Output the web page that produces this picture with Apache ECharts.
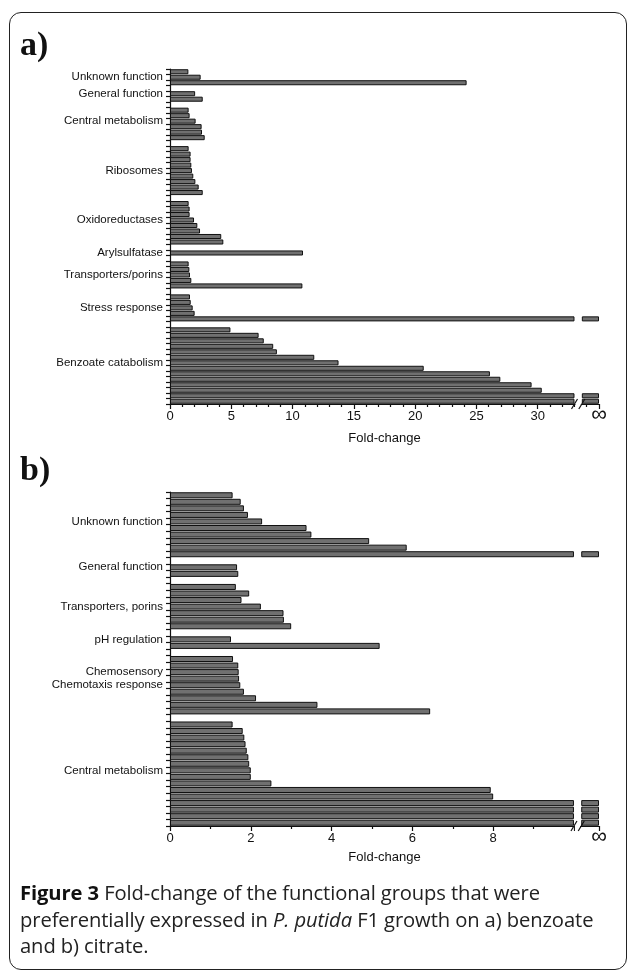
<!DOCTYPE html>
<html><head><meta charset="utf-8">
<script src="https://cdn.jsdelivr.net/npm/echarts@6/dist/echarts.min.js"></script>
<style>
html,body{margin:0;padding:0;background:#fff;width:629px;height:971px;overflow:hidden;}
#frame{position:absolute;left:9px;top:12px;width:618px;height:958px;border:1.5px solid #222;border-radius:12px;box-sizing:border-box;}
#chart{position:absolute;left:0;top:0;width:629px;height:880px;}
#caption{position:absolute;left:20px;top:879px;width:605px;font-family:'Open Sans',sans-serif;font-size:20.2px;line-height:26.5px;color:#222;white-space:nowrap;letter-spacing:-0.1px;}
#caption b{font-weight:700;color:#111;}
</style></head><body>
<div id="frame"></div>
<div id="chart"></div>
<div id="caption"><b>Figure 3</b> Fold-change of the functional groups that were<br>preferentially expressed in <i>P. putida</i> F1 growth on a) benzoate<br>and b) citrate.</div>
<script>
const INF = Infinity;
// ---- Panel a) benzoate ----
const aGroupNames = ['Unknown function', 'General function', 'Central metabolism', 'Ribosomes', 'Oxidoreductases', 'Arylsulfatase', 'Transporters/porins', 'Stress response', 'Benzoate catabolism'];
const aUnknownFunction = [1.5, 2.5, 24.2];
const aGeneralFunction = [2.05, 2.67];
const aCentralMetabolism = [1.52, 1.6, 2.09, 2.58, 2.61, 2.83];
const aRibosomes = [1.52, 1.68, 1.68, 1.74, 1.79, 1.9, 2.07, 2.34, 2.67];
const aOxidoreductases = [1.52, 1.6, 1.6, 1.96, 2.23, 2.45, 4.18, 4.35];
const aArylsulfatase = [10.85];
const aTransportersPorins = [1.52, 1.58, 1.63, 1.74, 10.8];
const aStressResponse = [1.63, 1.69, 1.85, 2.01, INF];
const aBenzoateCatabolism = [4.93, 7.23, 7.65, 8.42, 8.72, 11.77, 13.75, 20.7, 26.1, 26.95, 29.5, 30.33, INF, INF];
const aTickLabels = {0: '0', 5: '5', 10: '10', 15: '15', 20: '20', 25: '25', 30: '30', 35: '∞'};
// ---- Panel b) citrate ----
const bGroupNames = ['Unknown function', 'General function', 'Transporters, porins', 'pH regulation', 'Chemosensory\nChemotaxis response', 'Central metabolism'];
const bUnknownFunction = [1.55, 1.75, 1.83, 1.93, 2.28, 3.38, 3.5, 4.93, 5.86, INF];
const bGeneralFunction = [1.66, 1.69];
const bTransportersPorins = [1.63, 1.96, 1.77, 2.25, 2.81, 2.82, 3.0];
const bPhRegulation = [1.51, 5.19];
const bChemotaxis = [1.56, 1.69, 1.7, 1.71, 1.74, 1.83, 2.13, 3.65, 6.44];
const bCentralMetabolism = [1.55, 1.8, 1.84, 1.87, 1.9, 1.94, 1.96, 2.0, 2.0, 2.51, 7.94, 8.0, INF, INF, INF, INF];
const bTickLabels = {0: '0', 2: '2', 4: '4', 6: '6', 8: '8', 10.62: '∞'};

const SANS = "'Liberation Sans',Arial,sans-serif";

function buildPanel(groups, names) {
  const cats = [], vals = [], labels = {};
  groups.forEach((g, gi) => {
    const li = Math.floor((g.length - 1) / 2);
    g.forEach((v, i) => {
      const id = 'p' + gi + '_' + i;
      cats.push(id); vals.push(v);
      if (i === li) labels[id] = names[gi].indexOf('\n') >= 0 ? names[gi] + '\n ' : names[gi];
    });
    if (gi < groups.length - 1) { const id = 'gap' + gi; cats.push(id); vals.push(null); }
  });
  return {cats, vals, labels};
}

const A = buildPanel([aUnknownFunction, aGeneralFunction, aCentralMetabolism, aRibosomes, aOxidoreductases, aArylsulfatase, aTransportersPorins, aStressResponse, aBenzoateCatabolism], aGroupNames);
const B = buildPanel([bUnknownFunction, bGeneralFunction, bTransportersPorins, bPhRegulation, bChemotaxis, bCentralMetabolism], bGroupNames);

const panels = [
  {d: A, top: 69, height: 335, max: 35, interval: 5, minor: 5, brk: [33.0, 33.6], ticks: aTickLabels, nameGap: 28},
  {d: B, top: 492, height: 334, max: 10.62, interval: 2, minor: 2, brk: [10.0, 10.18], ticks: bTickLabels, nameGap: 25}
];

const BAR = '#707070';
const grids = [], xAxes = [], yAxes = [], series = [];
panels.forEach((p, k) => {
  grids.push({left: 170, right: 30, top: p.top, height: p.height});
  xAxes.push({
    type: 'value', gridIndex: k, min: 0, max: p.max, interval: p.interval,
    name: 'Fold-change', nameLocation: 'middle', nameGap: p.nameGap,
    nameTextStyle: {fontFamily: SANS, fontSize: 13, color: '#111'},
    axisLine: {show: true, lineStyle: {color: '#111', width: 1.2}},
    axisTick: {show: true, length: 5, lineStyle: {color: '#111', width: 1.2}},
    minorTick: {show: true, splitNumber: p.minor, length: 3, lineStyle: {color: '#111', width: 1.2}},
    splitLine: {show: false},
    axisLabel: {
      margin: 6, fontFamily: SANS, fontSize: 13, color: '#111', showMaxLabel: true,
      formatter: v => { const key = Math.round(v * 100) / 100; return p.ticks[key] === '∞' ? '{inf|∞}' : (p.ticks[key] || ''); },
      rich: {inf: {fontSize: 22, fontFamily: SANS, color: '#111', padding: [-6, 0, 0, 0]}}
    }
  });
  yAxes.push({
    type: 'category', gridIndex: k, inverse: true, data: p.d.cats,
    axisLine: {show: true, lineStyle: {color: '#111', width: 1.2}},
    axisTick: {show: true, length: 4, interval: 0, lineStyle: {color: '#111', width: 1.2}},
    axisLabel: {
      interval: 0, margin: 7, fontFamily: SANS, fontSize: 11.5, lineHeight: 13, color: '#111',
      formatter: v => p.d.labels[v] || ''
    }
  });
  const vals = p.d.vals;
  const common = {type: 'bar', xAxisIndex: k, yAxisIndex: k, stack: 's' + k, barCategoryGap: '8%', silent: true, animation: false};
  series.push(Object.assign({}, common, {
    name: 'main' + k,
    itemStyle: {color: BAR, borderColor: '#111', borderWidth: 1},
    data: vals.map(v => v == null ? '-' : (isFinite(v) ? v : p.brk[0]))
  }));
  series.push(Object.assign({}, common, {
    name: 'gap' + k,
    itemStyle: {color: 'rgba(0,0,0,0)', borderWidth: 0},
    data: vals.map(v => (v != null && !isFinite(v)) ? p.brk[1] - p.brk[0] : '-')
  }));
  series.push(Object.assign({}, common, {
    name: 'tail' + k,
    itemStyle: {color: BAR, borderColor: '#111', borderWidth: 1},
    data: vals.map(v => (v != null && !isFinite(v)) ? p.max - p.brk[1] : '-')
  }));
});

const chart = echarts.init(document.getElementById('chart'));
chart.setOption({
  animation: false,
  grid: grids, xAxis: xAxes, yAxis: yAxes, series: series
});

const g = [
  {type: 'text', left: 20, top: 29, style: {text: 'a)', font: "bold 34px 'Liberation Serif', serif", fill: '#111'}},
  {type: 'text', left: 20, top: 454, style: {text: 'b)', font: "bold 34px 'Liberation Serif', serif", fill: '#111'}}
];
panels.forEach((p, k) => {
  const y = p.top + p.height;
  const x0 = chart.convertToPixel({xAxisIndex: k}, p.brk[0]);
  const x1 = chart.convertToPixel({xAxisIndex: k}, p.brk[1]);
  g.push({type: 'rect', shape: {x: x0 + 1, y: y - 2, width: x1 - x0 - 2, height: 8}, style: {fill: '#fff'}, z: 100});
  [x0, x1].forEach(x => {
    g.push({type: 'line', shape: {x1: x - 3, y1: y + 5, x2: x + 3, y2: y - 5}, style: {stroke: '#111', lineWidth: 1.2}, z: 101});
  });
});
chart.setOption({graphic: g});
</script>
</body></html>
